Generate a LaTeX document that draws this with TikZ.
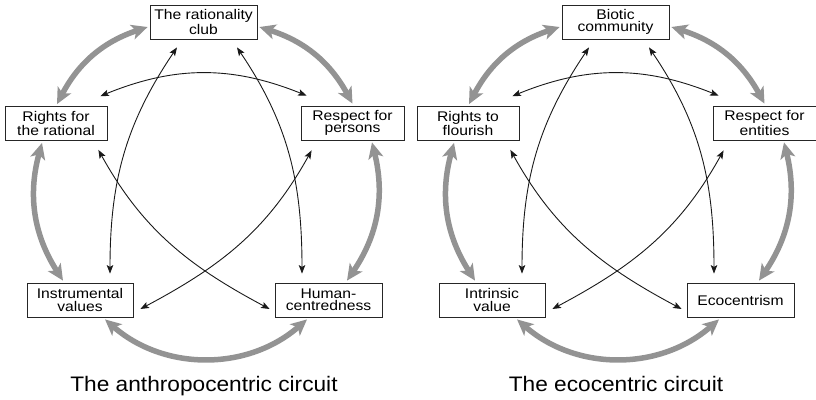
\documentclass[tikz,border=0pt]{standalone}
\usepackage{fontspec}
\setmainfont{Liberation Sans}[FakeStretch=1.08]
\newfontfamily\boxfont{Liberation Sans}[FakeStretch=1.12]
\usetikzlibrary{arrows.meta}
\definecolor{arcgray}{HTML}{939393}
\tikzset{
  conceptbox/.style={draw=black!85, line width=0.8pt, inner sep=0pt,
    minimum height=34pt, align=center, font=\boxfont\fontsize{14}{12.2}\selectfont},
  grayarc/.style={draw=arcgray, line width=5.5pt,
    {Stealth[length=16pt,width=15pt,inset=4pt]}-{Stealth[length=16pt,width=15pt,inset=4pt]}},
  blackarc/.style={draw=black!90, line width=0.9pt,
    {Stealth[length=8.5pt,width=6.5pt,inset=1.8pt]}-{Stealth[length=8.5pt,width=6.5pt,inset=1.8pt]}},
  circuittitle/.style={anchor=base, inner sep=0pt, font=\fontsize{21}{24}\selectfont}
}
% #1 name prefix, #2 horizontal offset, #3 top, #4 upper left, #5 upper right,
% #6 lower left, #7 lower right, #8 caption
\newcommand\drawcircuit[8]{%
\begin{scope}[xshift=#2pt]
  \node[conceptbox, minimum width=107pt] (#1T) at (203.5,-22)  {#3};
  \node[conceptbox, minimum width=102pt] (#1R) at (56,-123.5)  {#4};
  \node[conceptbox, minimum width=103pt] (#1P) at (352.5,-123) {#5};
  \node[conceptbox, minimum width=106pt] (#1I) at (80,-300)    {#6};
  \node[conceptbox, minimum width=107pt] (#1H) at (328.5,-300) {#7};
  \node[circuittitle] (#1title) at (204,-391.7) {#8};
  % outer ring of thick grey arrows
  \draw[grayarc] ([xshift=-2pt,yshift=-5pt]#1T.west) to[bend right=22] ([xshift=1pt,yshift=2pt]#1R.north);
  \draw[grayarc] ([xshift=2pt,yshift=-5pt]#1T.east) to[bend left=22] ([yshift=2pt]#1P.north);
  \draw[grayarc] ([xshift=-14pt,yshift=-2pt]#1R.south) to[bend right=24] ([xshift=-17pt,yshift=2pt]#1I.north);
  \draw[grayarc] ([xshift=19.5pt,yshift=-2pt]#1P.south) to[bend left=24] ([xshift=18.5pt,yshift=2pt]#1H.north);
  \draw[grayarc] ([xshift=25pt,yshift=-2pt]#1I.south) to[bend right=41] ([xshift=-21.5pt,yshift=-2pt]#1H.south);
  % inner star of thin black arrows
  \draw[blackarc] ([xshift=-7pt,yshift=10pt]#1R.north east) to[bend left=22] ([xshift=6pt,yshift=10pt]#1P.north west);
  \draw[blackarc] ([xshift=-26.5pt,yshift=-8pt]#1T.south) to[out=236,in=90] ([xshift=30pt,yshift=9pt]#1I.north);
  \draw[blackarc] ([xshift=33.5pt,yshift=-8pt]#1T.south) to[out=-56,in=90] ([xshift=-26.5pt,yshift=9pt]#1H.north);
  \draw[blackarc] ([xshift=-9pt,yshift=-9pt]#1R.south east) to[out=-61,in=152] ([xshift=-5pt,yshift=-9pt]#1H.west);
  \draw[blackarc] ([xshift=11pt,yshift=-10pt]#1P.south west) to[out=241,in=28] ([xshift=7pt,yshift=-9pt]#1I.east);
\end{scope}}

\begin{document}
\begin{tikzpicture}[x=1pt,y=1pt]
  \useasboundingbox (0,0) rectangle (816,-399);
  \drawcircuit{A}{0}{The rationality\\club}{Rights for\\the rational}{Respect for\\persons}%
    {Instrumental\\values}{Human-\\centredness}{The anthropocentric circuit}
  \drawcircuit{E}{412}{Biotic\\community}{Rights to\\flourish}{Respect for\\entities}%
    {Intrinsic\\value}{Ecocentrism}{The ecocentric circuit}
\end{tikzpicture}
\end{document}
